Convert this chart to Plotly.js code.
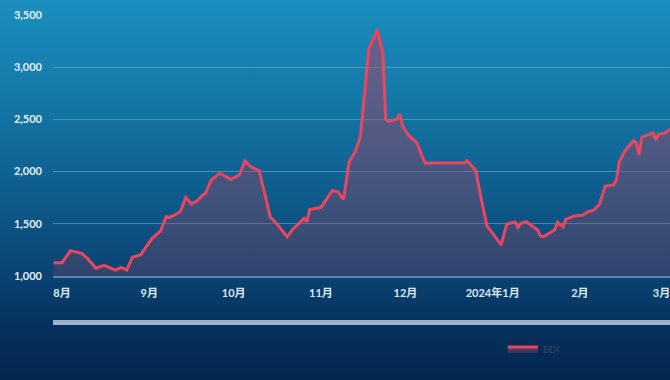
<!DOCTYPE html>
<html>
<head>
<meta charset="utf-8">
<script src="https://cdn.plot.ly/plotly-3.0.1.min.js"></script>
<style>
  html, body { margin: 0; padding: 0; }
  body { width: 670px; height: 380px; overflow: hidden;
    background: linear-gradient(to bottom, #1b8fbf 0%, #1479a8 25%, #0e5b8b 52%, #0a4373 72%, #06305c 86%, #04264f 100%); }
  #chart { width: 670px; height: 380px; }
</style>
</head>
<body>
<div id="chart"></div>
<script>
// BDI values
const dates = [
  '2023-07-29','2023-08-01','2023-08-04','2023-08-06','2023-08-08','2023-08-10','2023-08-13','2023-08-16',
  '2023-08-20','2023-08-22','2023-08-24','2023-08-26','2023-08-29','2023-09-02','2023-09-05','2023-09-07',
  '2023-09-08','2023-09-10','2023-09-12','2023-09-14','2023-09-16','2023-09-18','2023-09-20','2023-09-21',
  '2023-09-23','2023-09-26','2023-09-30','2023-10-03','2023-10-05','2023-10-07','2023-10-10','2023-10-12',
  '2023-10-14','2023-10-16','2023-10-18','2023-10-20','2023-10-22','2023-10-25','2023-10-26','2023-10-27',
  '2023-10-28','2023-11-01','2023-11-05','2023-11-07','2023-11-09','2023-11-11','2023-11-13','2023-11-15',
  '2023-11-18','2023-11-21','2023-11-23','2023-11-24','2023-11-25','2023-11-28','2023-11-29','2023-11-30',
  '2023-12-02','2023-12-05','2023-12-08','2023-12-13','2023-12-22','2023-12-23','2023-12-26','2023-12-28',
  '2023-12-30','2024-01-01','2024-01-04','2024-01-06','2024-01-09','2024-01-10','2024-01-11','2024-01-13',
  '2024-01-15','2024-01-17','2024-01-18','2024-01-19','2024-01-21','2024-01-23','2024-01-24','2024-01-26',
  '2024-01-27','2024-01-30','2024-02-02','2024-02-04','2024-02-06','2024-02-08','2024-02-10','2024-02-13',
  '2024-02-14','2024-02-15','2024-02-17','2024-02-20','2024-02-21','2024-02-22','2024-02-23','2024-02-26',
  '2024-02-27','2024-02-28','2024-02-29','2024-03-02','2024-03-04'
];
const bdi = [
  1127,1127,1243,1233,1217,1170,1074,1102,
  1057,1083,1057,1179,1204,1361,1431,1568,
  1560,1585,1616,1754,1690,1721,1776,1792,
  1920,1984,1926,1968,2102,2047,2009,1792,
  1562,1511,1447,1376,1447,1530,1553,1520,
  1636,1658,1817,1808,1735,2095,2181,2335,
  3172,3357,3133,2501,2478,2501,2552,2437,
  2351,2277,2082,2082,2085,2104,2009,1728,
  1479,1409,1297,1498,1517,1466,1505,1520,
  1479,1441,1383,1377,1409,1441,1515,1472,
  1543,1575,1584,1616,1632,1690,1862,1872,
  1926,2095,2200,2296,2277,2159,2329,2367,
  2373,2303,2360,2367,2405
];
const seriesName = 'BDI';
const monthTicks = ['2023-08-01','2023-09-01','2023-10-01','2023-11-01','2023-12-01','2024-01-01','2024-02-01','2024-03-01'];
const monthLabels = ['8月','9月','10月','11月','12月','2024年1月','2月','3月'];
const yTicks = [1000,1500,2000,2500,3000,3500];

const fontFam = 'Lato, "Noto Sans CJK SC", sans-serif';

const trace = {
  type: 'scatter', mode: 'lines', name: seriesName,
  x: dates, y: bdi,
  line: { color: '#ec4560', width: 3 },
  fill: 'tozeroy',
  fillgradient: {
    type: 'vertical', start: 1000, stop: 3400,
    colorscale: [[0, 'rgba(125,70,100,0.32)'], [1, 'rgba(165,70,108,0.62)']]
  },
  hoverinfo: 'x+y'
};

const layout = {
  width: 670, height: 380,
  margin: { l: 53, r: 0, t: 15, b: 104 },
  paper_bgcolor: 'rgba(0,0,0,0)', plot_bgcolor: 'rgba(0,0,0,0)',
  font: { family: fontFam, color: '#e6f0f6' },
  showlegend: true,
  legend: {
    orientation: 'h', x: 0.729, xanchor: 'left', y: -0.28, yanchor: 'middle',
    bgcolor: 'rgba(0,0,0,0)', font: { size: 10, color: '#33465f', family: fontFam }
  },
  xaxis: {
    type: 'date', range: ['2023-07-28 19:00', '2024-03-04 00:00'],
    tickmode: 'array', tickvals: monthTicks, ticktext: monthLabels,
    tickfont: { size: 11, color: '#dde8f0', family: fontFam, weight: 'bold' },
    ticklabeloverflow: 'allow',
    showgrid: false, zeroline: false,
    showline: true, linecolor: 'rgba(150,190,220,0.55)', linewidth: 1.5,
    ticks: '', ticklabelstandoff: 6
  },
  yaxis: {
    range: [1000, 3500], tickmode: 'array', tickvals: yTicks,
    tickformat: ',d',
    tickfont: { size: 11, color: '#e6f0f6', family: fontFam, weight: 'bold' },
    showgrid: true, gridcolor: 'rgba(140,195,225,0.45)', gridwidth: 1,
    zeroline: false, showline: false, ticks: '', ticklabelstandoff: 10
  },
  shapes: [{
    type: 'rect', xref: 'paper', yref: 'paper',
    x0: 0, x1: 1, y0: -0.1875, y1: -0.1685,
    fillcolor: '#9db2ca', line: { width: 0 }, layer: 'above'
  }]
};

Plotly.newPlot('chart', [trace], layout, { displayModeBar: false, staticPlot: true });
</script>
</body>
</html>
